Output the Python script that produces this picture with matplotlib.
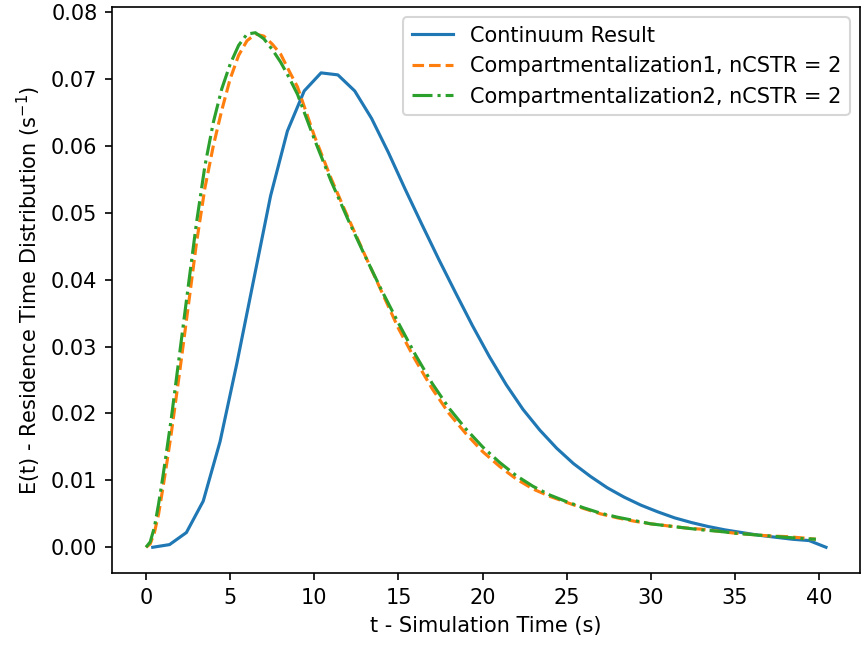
import matplotlib as mpl
import matplotlib.pyplot as plt

mpl.use('Agg')

# continuum result (coarse 1 s output)
t_cont = [0.4, 1.4, 2.4, 3.4, 4.4, 5.4, 6.4, 7.4, 8.4, 9.4,
          10.4, 11.4, 12.4, 13.4, 14.4, 15.4, 16.4, 17.4, 18.4, 19.4,
          20.4, 21.4, 22.4, 23.4, 24.4, 25.4, 26.4, 27.4, 28.4, 29.4,
          30.4, 31.4, 32.4, 33.4, 34.4, 35.4, 36.4, 37.4, 38.4, 39.4, 40.4]
e_cont = [0.0, 0.0004, 0.0022, 0.0069, 0.0158, 0.0275, 0.0400, 0.0525, 0.0622, 0.0682,
          0.0709, 0.0706, 0.0682, 0.0641, 0.0590, 0.0535, 0.0482, 0.0430, 0.0380, 0.0331,
          0.0285, 0.0243, 0.0206, 0.0175, 0.0148, 0.0125, 0.0106, 0.0089, 0.0075, 0.0063,
          0.0053, 0.0044, 0.0037, 0.0031, 0.0026, 0.0022, 0.0018, 0.0015, 0.0012, 0.0010, 0.0]

# compartment models
t_comp = [0, 0.25, 0.5, 0.75, 1.0, 1.25, 1.5, 2.0, 2.5, 3.0, 3.5, 4.0, 4.5, 5.0, 5.5,
          6.0, 6.5, 7.0, 7.5, 8.0, 8.5, 9.0, 10, 11, 12, 13, 14, 15, 16, 17, 18, 19,
          20, 21, 22, 23, 24, 25, 26, 27, 28, 29, 30, 31, 32, 33, 34, 35, 36, 37, 38,
          39, 39.8]
e_comp1 = [0.0, 0.0005, 0.0022, 0.0050, 0.0088, 0.0128, 0.0170, 0.0262, 0.0358, 0.0455,
           0.0537, 0.0600, 0.0653, 0.0700, 0.0735, 0.0757, 0.0767, 0.0764, 0.0752, 0.0737,
           0.0712, 0.0688, 0.0615, 0.0551, 0.0493, 0.0437, 0.0382, 0.0327, 0.0280, 0.0237,
           0.0200, 0.0170, 0.0143, 0.0121, 0.0102, 0.0087, 0.0076, 0.0067, 0.0058, 0.0050,
           0.0044, 0.0039, 0.0035, 0.0032, 0.0029, 0.0027, 0.0024, 0.0021, 0.0019, 0.0017,
           0.0016, 0.0014, 0.0012]
e_comp2 = [0.0, 0.0008, 0.0030, 0.0065, 0.0105, 0.0148, 0.0192, 0.0290, 0.0388, 0.0485,
           0.0570, 0.0635, 0.0685, 0.0722, 0.0750, 0.0767, 0.0769, 0.0760, 0.0744, 0.0725,
           0.0702, 0.0677, 0.0610, 0.0547, 0.0490, 0.0436, 0.0384, 0.0335, 0.0288, 0.0245,
           0.0208, 0.0177, 0.0150, 0.0127, 0.0107, 0.0091, 0.0078, 0.0068, 0.0059, 0.0051,
           0.0045, 0.0040, 0.0035, 0.0032, 0.0029, 0.0026, 0.0024, 0.0021, 0.0019, 0.0017,
           0.0015, 0.0013, 0.0012]

fig = plt.figure(figsize=(861 / 150, 645 / 150), dpi=150)
ax = fig.add_axes([112 / 861, 72 / 645, 748 / 861, 566 / 645])

ax.plot(t_cont, e_cont, label='Continuum Result')
ax.plot(t_comp, e_comp1, '--', label='Compartmentalization1, nCSTR = 2')
ax.plot(t_comp, e_comp2, '-.', label='Compartmentalization2, nCSTR = 2')

ax.set_xlabel('t - Simulation Time (s)')
ax.set_ylabel('E(t) - Residence Time Distribution (s$^{-1}$)')
ax.legend(loc='upper right')

fig.savefig('out.png', dpi=150)
